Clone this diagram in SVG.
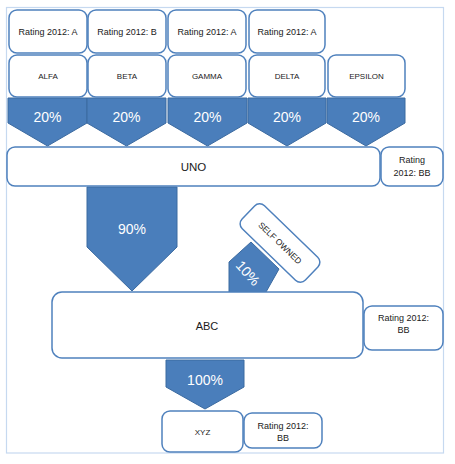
<svg xmlns="http://www.w3.org/2000/svg" width="455" height="464" viewBox="0 0 455 464">
<style>
.box{fill:#fff;stroke:#4f81bd;stroke-width:1.5}
.arr{fill:#4a7ebb;stroke:#3b6aa0;stroke-width:1}
.t{font-family:"Liberation Sans",Arial,sans-serif;fill:#1a1a1a;text-anchor:middle}
.w{font-family:"Liberation Sans",Arial,sans-serif;fill:#fff;text-anchor:middle;font-size:14px}
</style>
<rect width="455" height="464" fill="#fff"/>
<rect x="6.5" y="7.5" width="437" height="445.5" fill="none" stroke="#c6d9f0" stroke-width="1.2"/>

<g id="connectors">
<polygon class="arr" points="8,98 87,98 87,123 47.5,146 8,123"/>
<polygon class="arr" points="87,98 166,98 166,123 126.5,146 87,123"/>
<polygon class="arr" points="168,98 247,98 247,123 207.5,146 168,123"/>
<polygon class="arr" points="248,98 326,98 326,123 287,146 248,123"/>
<polygon class="arr" points="327,98 405,98 405,123 366,146 327,123"/>
<text class="w" x="47.5" y="122">20%</text>
<text class="w" x="126.5" y="122">20%</text>
<text class="w" x="207.5" y="122">20%</text>
<text class="w" x="287" y="122">20%</text>
<text class="w" x="366" y="122">20%</text>
<polygon class="arr" points="87,187 177,187 177,247 132,291 87,247"/>
<text class="w" x="132" y="234">90%</text>
<polygon class="arr" points="229,262 251,242 279,269 266,292 229,292"/>
<text class="w" transform="translate(248,273) rotate(48)" y="5">10%</text>
<polygon class="arr" points="166,360 244,360 244,387 205,409 166,387"/>
<text class="w" x="205" y="385">100%</text>
</g>

<g id="rating-alfa"><rect class="box" x="9" y="10" width="78" height="43" rx="8"/><text class="t" x="48" y="35" font-size="9">Rating 2012: A</text></g>
<g id="rating-beta"><rect class="box" x="88" y="10" width="78" height="43" rx="8"/><text class="t" x="127" y="35" font-size="9">Rating 2012: B</text></g>
<g id="rating-gamma"><rect class="box" x="168" y="10" width="78" height="43" rx="8"/><text class="t" x="207" y="35" font-size="9">Rating 2012: A</text></g>
<g id="rating-delta"><rect class="box" x="249" y="10" width="76" height="43" rx="8"/><text class="t" x="287" y="35" font-size="9">Rating 2012: A</text></g>

<g id="alfa"><rect class="box" x="9" y="55" width="78" height="42" rx="8"/><text class="t" x="48" y="79" font-size="8">ALFA</text></g>
<g id="beta"><rect class="box" x="88" y="55" width="78" height="42" rx="8"/><text class="t" x="127" y="79" font-size="8">BETA</text></g>
<g id="gamma"><rect class="box" x="168" y="55" width="78" height="42" rx="8"/><text class="t" x="207" y="79" font-size="8">GAMMA</text></g>
<g id="delta"><rect class="box" x="249" y="55" width="76" height="42" rx="8"/><text class="t" x="287" y="79" font-size="8">DELTA</text></g>
<g id="epsilon"><rect class="box" x="328" y="55" width="77" height="42" rx="8"/><text class="t" x="366.5" y="79" font-size="8">EPSILON</text></g>

<g id="uno"><rect class="box" x="7" y="147" width="373" height="39" rx="8"/><text class="t" x="193.5" y="171" font-size="11.5">UNO</text></g>
<g id="rating-uno"><rect class="box" x="381" y="147" width="62" height="39" rx="8"/><text class="t" x="412" y="163" font-size="9">Rating</text><text class="t" x="412" y="176" font-size="9">2012: BB</text></g>

<g id="self-owned" transform="translate(280,243) rotate(44)"><rect class="box" x="-44" y="-16" width="88" height="32" rx="7"/><text class="t" x="0" y="3" font-size="8.5">SELF OWNED</text></g>

<g id="abc"><rect class="box" x="52" y="292" width="311" height="66" rx="10"/><text class="t" x="207" y="330" font-size="11">ABC</text></g>
<g id="rating-abc"><rect class="box" x="364" y="306" width="79" height="44" rx="8"/><text class="t" x="403.5" y="321" font-size="9">Rating 2012:</text><text class="t" x="403.5" y="333" font-size="9">BB</text></g>

<g id="xyz"><rect class="box" x="162" y="411" width="81" height="41" rx="8"/><text class="t" x="202.5" y="435" font-size="8">XYZ</text></g>
<g id="rating-xyz"><rect class="box" x="244" y="413" width="78" height="35" rx="8"/><text class="t" x="283" y="429" font-size="9">Rating 2012:</text><text class="t" x="283" y="441" font-size="9">BB</text></g>
</svg>
